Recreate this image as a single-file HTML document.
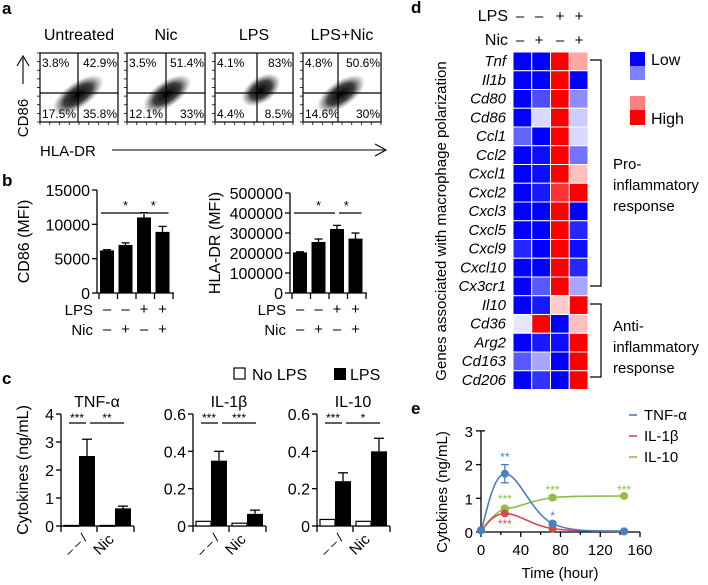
<!DOCTYPE html>
<html><head><meta charset="utf-8"><style>
html,body{margin:0;padding:0;background:#fff;width:708px;height:585px;overflow:hidden}
svg{font-family:"Liberation Sans",Arial,sans-serif}
</style></head><body>
<svg id="fig" width="708" height="585" viewBox="0 0 708 585" xmlns="http://www.w3.org/2000/svg">
<defs>
<radialGradient id="cloud"><stop offset="0" stop-color="#000" stop-opacity="1"/><stop offset="0.55" stop-color="#111" stop-opacity="0.8"/><stop offset="1" stop-color="#555" stop-opacity="0"/></radialGradient>
</defs>
<g id="root"></g>
</svg>
<script>
// ---------- data ----------
const flowGroups = ['Untreated','Nic','LPS','LPS+Nic'];
const flowUL = ['3.8%','3.5%','4.1%','4.8%'];
const flowUR = ['42.9%','51.4%','83%','50.6%'];
const flowLL = ['17.5%','12.1%','4.4%','14.6%'];
const flowLR = ['35.8%','33%','8.5%','30%'];

const cd86Vals = [6200, 7000, 11000, 8900];
const cd86Err = [100, 300, 700, 800];
const cd86Ticks = [0, 5000, 10000, 15000];
const hlaVals = [203000, 255000, 320000, 272000];
const hlaErr = [3000, 15000, 18000, 28000];
const hlaTicks = [0, 100000, 200000, 300000, 400000, 500000];
const lpsSigns = ['–','–','+','+'];
const nicSigns = ['–','+','–','+'];

const cytoNames = ['TNF-α','IL-1β','IL-10'];
const cytoMax = [4, 0.6, 0.6];
const cytoTicks = [[0,1,2,3,4],[0,0.2,0.4,0.6],[0,0.2,0.4,0.6]];
const cytoTickLabels = [['0','1','2','3','4'],['0','0.2','0.4','0.6'],['0','0.2','0.4','0.6']];
const cytoNoLps = [[0.02,0.02],[0.025,0.015],[0.035,0.025]];
const cytoLps = [[2.5,0.63],[0.35,0.065],[0.24,0.4]];
const cytoLpsErr = [[0.6,0.08],[0.05,0.02],[0.045,0.07]];
const cytoSig = [['***','**'],['***','***'],['***','*']];

const genes = ['Tnf','Il1b','Cd80','Cd86','Ccl1','Ccl2','Cxcl1','Cxcl2','Cxcl3','Cxcl5','Cxcl9','Cxcl10','Cx3cr1','Il10','Cd36','Arg2','Cd163','Cd206'];
const heat = [
 [-1,-1,1,0.35],[-1,-1,1,-1],[-1,-0.7,1,-0.45],[-1,-0.15,1,-0.2],
 [-0.6,-1,1,-0.15],[-1,-0.95,1,-0.55],[-1,-0.95,1,0.25],[-1,-0.9,0.8,1],
 [-1,-1,1,-1],[-1,-1,1,-0.85],[-0.85,-1,1,-0.95],[-1,-1,1,-0.85],
 [-1,-0.65,1,-0.35],[-1,-0.9,0.2,1],[-0.1,1,-1,0.25],[-1,-0.9,-0.95,1],
 [-0.65,-0.35,-1,1],[-1,-0.8,-1,1]];

const timeHours = [0, 24, 72, 144];
const tnfSeries = [0.05, 1.73, 0.25, 0.02];
const tnfErr = [0, 0.27, 0.05, 0];
const il1bSeries = [0.05, 0.55, 0.1, 0.02];
const il10Series = [0.05, 0.7, 1.02, 1.07];
const il10Err = [0, 0.05, 0.06, 0.04];
const eXTicks = [0, 40, 80, 120, 160];
const eYTicks = [0, 1, 2, 3];

// ---------- helpers ----------
const NS='http://www.w3.org/2000/svg';
const root=document.getElementById('root');
function mk(tag, attrs, parent, text){
  const e=document.createElementNS(NS,tag);
  for(const k in attrs) e.setAttribute(k,attrs[k]);
  if(text!==undefined) e.textContent=text;
  (parent||root).appendChild(e); return e;
}
function line(x1,y1,x2,y2,p,c,w){return mk('line',{x1,y1,x2,y2,stroke:c||'#000','stroke-width':w||1.3},p);}
function txt(x,y,s,size,anchor,p,extra){const a={x,y,'font-size':size,'text-anchor':anchor||'start',fill:'#000'};Object.assign(a,extra||{});return mk('text',a,p,s);}

// panel letters
[['a',2,14],['b',2,186],['c',2,384],['d',411,13],['e',411,414]].forEach(([l,x,y])=>{
  const t=txt(x,y,l,17,'start',root,{'font-weight':'bold'});
  
  
});

// ---------- panel a ----------
const gA=mk('g',{});


const boxX=[40,127,215,303], boxW=78, boxY=53, boxH=69;
const qx=[38,39,42,35], qy=40;
const cloudRx=[30,28,22,28], cloudRy=13, cloudOff=[[38,42],[40,41],[46,37],[38,41]];
flowGroups.forEach((g,i)=>{
  const x=boxX[i];
  const gg=mk('g',{},gA);
  
  
  txt(x+boxW/2,40,g,16,'middle',gg);
  mk('ellipse',{cx:x+cloudOff[i][0],cy:boxY+cloudOff[i][1],rx:cloudRx[i],ry:cloudRy,fill:'url(#cloud)',transform:`rotate(-35 ${x+cloudOff[i][0]} ${boxY+cloudOff[i][1]})`},gg);
  mk('rect',{x,y:boxY,width:boxW,height:boxH,fill:'none',stroke:'#000','stroke-width':1.2},gg);
  line(x+qx[i],boxY,x+qx[i],boxY+boxH,gg,'#000',1.2);
  line(x,boxY+qy,x+boxW,boxY+qy,gg,'#000',1.2);
  for(let k=0;k<=8;k++){line(x+k*boxW/8,boxY+boxH,x+k*boxW/8,boxY+boxH+3,gg,'#000',0.8);line(x-3,boxY+k*boxH/8,x,boxY+k*boxH/8,gg,'#000',0.8);}
  txt(x+2,boxY+14,flowUL[i],12,'start',gg);
  txt(x+boxW-1,boxY+14,flowUR[i],12,'end',gg);
  txt(x+2,boxY+boxH-4,flowLL[i],12,'start',gg);
  txt(x+boxW-1,boxY+boxH-4,flowLR[i],12,'end',gg);
});
txt(40,156,'HLA-DR',15,'start',gA);
line(112,150,385,150,gA,'#000',1.1);
mk('path',{d:'M375,144 L386,150 L375,156',fill:'none',stroke:'#000','stroke-width':1.1},gA);
txt(28,118,'CD86',15,'middle',gA,{transform:'rotate(-90 28 118)'});
line(23,84,23,58,gA,'#000',1.1);
mk('path',{d:'M17,66 L23,56 L29,66',fill:'none',stroke:'#000','stroke-width':1.1},gA);

// ---------- panel b ----------
function barChart(ax, y0, y1, max, vals, errs, ticks, tickLbl, ylab, ylx, name){
  const g=mk('g',{});
  
  
  const sy=v=>y0-(v/max)*(y0-y1);
  const bw=14, step=18.5, x0=ax+8;
  line(ax,sy(0),ax,sy(max),g);
  ticks.forEach((t,i)=>{line(ax-5,sy(t),ax,sy(t),g);txt(ax-7,sy(t)+6,tickLbl[i],16,'end',g);});
  line(ax,sy(0),ax+step*4+3,sy(0),g);
  for(let k=0;k<=4;k++) line(ax+k*step+2,sy(0),ax+k*step+2,sy(0)+6,g);
  vals.forEach((v,i)=>{
    const cx=x0+i*step+2;
    const r=mk('rect',{x:cx-bw/2,y:sy(v),width:bw,height:sy(0)-sy(v),fill:'#000'},g);
    
    
    line(cx,sy(v),cx,sy(v+errs[i]),g);
    line(cx-4,sy(v+errs[i]),cx+4,sy(v+errs[i]),g);
  });
  // significance
  line(x0+2-6,213,x0+2+2*step-2,213,g);
  line(x0+2+2*step+2,213,x0+2+3*step+6,213,g);
  txt(x0+2+step,210,'*',13,'middle',g);
  txt(x0+2+2.5*step,210,'*',13,'middle',g);
  txt(ylx,(y0+y1)/2,ylab,16,'middle',g,{transform:`rotate(-90 ${ylx} ${(y0+y1)/2})`});
  // signs
  txt(x0-12,315,'LPS',15,'end',g); txt(x0-12,335,'Nic',15,'end',g);
  lpsSigns.forEach((s,i)=>txt(x0+i*step+2,314,s,15,'middle',g));
  nicSigns.forEach((s,i)=>txt(x0+i*step+2,334,s,15,'middle',g));
  return g;
}
barChart(97,293,190,15000,cd86Vals,cd86Err,cd86Ticks,cd86Ticks.map(String),'CD86 (MFI)',29,'cd86-chart');
barChart(290,293,193,500000,hlaVals,hlaErr,hlaTicks,hlaTicks.map(String),'HLA-DR (MFI)',220,'hla-dr-chart');

// ---------- panel c ----------
const lg=mk('g',{});


mk('rect',{x:234,y:368,width:11,height:11,fill:'#fff',stroke:'#000','stroke-width':1.2},lg);
txt(252,380,'No LPS',16,'start',lg);
mk('rect',{x:334,y:368,width:12,height:12,fill:'#000'},lg);
txt(350,380,'LPS',16,'start',lg);
const cAx=[61,193,317];
cytoNames.forEach((n,ci)=>{
  const g=mk('g',{});
  
  
  const ax=cAx[ci], y0=526, y1=414;
  const sy=v=>y0-(v/cytoMax[ci])*(y0-y1);
  txt(ax+36,407,n,16,'middle',g);
  line(ax,y0,ax,y1,g);
  cytoTicks[ci].forEach((t,i)=>{line(ax-5,sy(t),ax,sy(t),g);txt(ax-7,sy(t)+6,cytoTickLabels[ci][i],16,'end',g);});
  line(ax,y0,ax+73,y0,g);
  [0,36,73].forEach(o=>line(ax+o,y0,ax+o,y0+6,g));
  [0,1].forEach(gi=>{
    const base=ax+2+gi*36;
    const w=mk('rect',{x:base+1,y:sy(cytoNoLps[ci][gi]),width:15,height:Math.max(0.8,sy(0)-sy(cytoNoLps[ci][gi])),fill:'#fff',stroke:'#000','stroke-width':1.2},g);
    
    
    const v=cytoLps[ci][gi], e=cytoLpsErr[ci][gi];
    const b=mk('rect',{x:base+16,y:sy(v),width:16,height:sy(0)-sy(v),fill:'#000'},g);
    
    
    line(base+24,sy(v),base+24,sy(v+e),g); line(base+19,sy(v+e),base+29,sy(v+e),g);
  });
  line(ax+8,423,ax+25,423,g); line(ax+29,423,ax+63,423,g);
  txt(ax+16,422,cytoSig[ci][0],12,'middle',g); txt(ax+46,422,cytoSig[ci][1],12,'middle',g);
  txt(ax+18,548,'– – /',13,'middle',g,{transform:`rotate(-45 ${ax+18} 548)`});
  txt(ax+46,548,'Nic',15,'middle',g,{transform:`rotate(-45 ${ax+46} 548)`});
});
txt(28,470,'Cytokines (ng/mL)',16,'middle',root,{transform:'rotate(-90 28 470)'});

// ---------- panel d ----------
const gD=mk('g',{});


const hx=513, hy=52, cw=18.75, ch=18.75;
const colX=[520,539,560,579];
txt(508,21,'LPS',16,'end',gD); txt(508,45,'Nic',16,'end',gD);
lpsSigns.forEach((s,i)=>txt(colX[i],21,s,15,'middle',gD));
nicSigns.forEach((s,i)=>txt(colX[i],45,s,15,'middle',gD));
function col(v){
  if(v<0){const a=Math.round(255*(1+v));return `rgb(${a},${a},255)`;}
  const a=Math.round(255*(1-v));return `rgb(255,${a},${a})`;
}
genes.forEach((gn,r)=>{
  const t=txt(506,hy+r*ch+14,gn,15,'end',gD,{'font-style':'italic'});
  
  
  heat[r].forEach((v,c)=>{
    const cell=mk('rect',{x:hx+c*cw,y:hy+r*ch,width:cw,height:ch,fill:col(v),stroke:'#fff','stroke-width':1},gD);
    
    
  });
});
mk('path',{d:'M590,60 H601 V286 H590',fill:'none',stroke:'#000','stroke-width':1.2},gD);
mk('path',{d:'M590,304 H601 V377 H590',fill:'none',stroke:'#000','stroke-width':1.2},gD);
['Pro-','inflammatory','response'].forEach((s,i)=>txt(613,169+i*21,s,15,'start',gD));
['Anti-','inflammatory','response'].forEach((s,i)=>txt(613,331+i*21,s,15,'start',gD));
txt(446,221,'Genes associated with macrophage polarization',15,'middle',gD,{transform:'rotate(-90 446 221)'});
mk('rect',{x:630,y:52,width:15,height:15,fill:'#0000ff'},gD);
mk('rect',{x:630,y:66,width:15,height:14,fill:'#8080ff'},gD);
mk('rect',{x:630,y:96,width:15,height:15,fill:'#ff8080'},gD);
mk('rect',{x:630,y:110,width:15,height:15,fill:'#ff0000'},gD);
txt(651,65,'Low',16,'start',gD); txt(651,124,'High',16,'start',gD);

// ---------- panel e ----------
const gE=mk('g',{});


const ex=t=>481+t*(159/160), ey=v=>532-v*33.7;
line(ex(0),ey(0),ex(0),ey(3),gE,'#000',1.3);
line(ex(0),ey(3),ex(0)+4,ey(3),gE,'#000',1.3);
eYTicks.forEach(t=>{line(ex(0)-5,ey(t),ex(0),ey(t),gE);txt(ex(0)-8,ey(t)+6,String(t),15,'end',gE);});
line(ex(0),ey(0),ex(160),ey(0),gE);
eXTicks.forEach(t=>{line(ex(t),ey(0),ex(t),ey(0)+5,gE);txt(ex(t),555,String(t),15,'middle',gE);});
for(let t=20;t<160;t+=40) line(ex(t),ey(0),ex(t),ey(0)+3,gE);
txt(560,578,'Time (hour)',15,'middle',gE);
txt(447,492,'Cytokines (ng/mL)',15,'middle',gE,{transform:'rotate(-90 447 492)'});
function smooth(xs,ys){
  const P=xs.map((x,i)=>[ex(x),ey(ys[i])]);
  let d=`M${P[0][0]},${P[0][1]}`;
  for(let i=0;i<P.length-1;i++){
    const p0=P[Math.max(0,i-1)],p1=P[i],p2=P[i+1],p3=P[Math.min(P.length-1,i+2)];
    const k=0.18;
    let c1=[p1[0]+(p2[0]-p0[0])*k,p1[1]+(p2[1]-p0[1])*k];
    let c2=[p2[0]-(p3[0]-p1[0])*k,p2[1]-(p3[1]-p1[1])*k];
    if(i===1){c1=[p1[0]+14,p1[1]];}
    d+=` C${c1[0]},${c1[1]} ${c2[0]},${c2[1]} ${p2[0]},${p2[1]}`;
  }
  return d;
}
const series=[['tnf',tnfSeries,tnfErr,'#4a7fc4'],['il-1b',il1bSeries,null,'#d9494b'],['il-10',il10Series,il10Err,'#8dbf46']];
series.slice().reverse().forEach(([n,s,err,c])=>{
  const p=mk('path',{d:smooth(timeHours,s),fill:'none',stroke:c,'stroke-width':1.6},gE);
  
  
  s.forEach((v,i)=>{
    if(err&&err[i]){line(ex(timeHours[i]),ey(v-err[i]),ex(timeHours[i]),ey(v+err[i]),gE,c,1.3);
      line(ex(timeHours[i])-4,ey(v-err[i]),ex(timeHours[i])+4,ey(v-err[i]),gE,c,1.3);
      line(ex(timeHours[i])-4,ey(v+err[i]),ex(timeHours[i])+4,ey(v+err[i]),gE,c,1.3);}
    const pt=mk('circle',{cx:ex(timeHours[i]),cy:ey(v),r:4,fill:c},gE);
    
    
  });
});
txt(ex(24),461,'**',12,'middle',gE,{fill:'#4a7fc4'});
txt(ex(72),520,'*',12,'middle',gE,{fill:'#4a7fc4'});
txt(ex(24),503,'***',12,'middle',gE,{fill:'#8dbf46'});
txt(ex(72),494,'***',12,'middle',gE,{fill:'#8dbf46'});
txt(ex(144),494,'***',12,'middle',gE,{fill:'#8dbf46'});
txt(ex(24),528,'***',12,'middle',gE,{fill:'#d9494b'});
[['TNF-α','#4a7fc4',420],['IL-1β','#d9494b',441],['IL-10','#8dbf46',462]].forEach(([n,c,y])=>{
  const g=mk('g',{},gE);
  
  
  line(629,y-5,637,y-5,g,c,1.6);
  txt(644,y,n,15,'start',g);
});
</script>
</body></html>
